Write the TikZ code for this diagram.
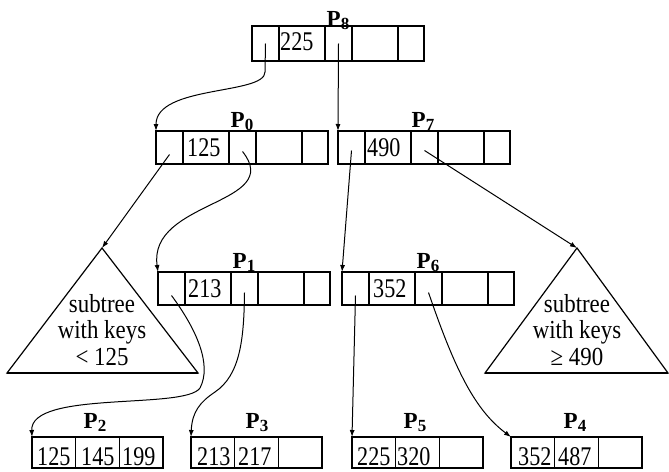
\documentclass[tikz,border=0pt]{standalone}
\usepackage{fontspec}
\usepackage{graphicx}
\setmainfont{Liberation Serif}
\usetikzlibrary{arrows.meta}
\newcommand\kt[1]{\scalebox{0.82}[1]{#1}}
\newcommand\trtxt[1]{\scalebox{0.88}[1]{#1}}
\newcommand\plab[1]{\textbf{P\raisebox{-3.5pt}{\fontsize{17}{17}\selectfont #1}}}
% internal node: name, x, y, height
\newcommand\ibox[4]{%
  \node[cellbox, minimum height=#4, minimum width=27pt, anchor=north west] (#1q0) at (#2,#3) {};
  \node[cellbox, minimum height=#4, minimum width=46pt, anchor=north west] (#1k0) at (#1q0.north east) {};
  \node[cellbox, minimum height=#4, minimum width=27pt, anchor=north west] (#1q1) at (#1k0.north east) {};
  \node[cellbox, minimum height=#4, minimum width=46pt, anchor=north west] (#1k1) at (#1q1.north east) {};
  \node[cellbox, minimum height=#4, minimum width=26pt, anchor=north west] (#1q2) at (#1k1.north east) {};
  \node[boxrim, minimum height=#4, minimum width=172pt, anchor=north west] (#1) at (#2,#3) {};
}
% leaf node: name, x, y
\newcommand\lbox[3]{%
  \node[cellbox, minimum height=31pt, minimum width=43.7pt, anchor=north west] (#1k0) at (#2,#3) {};
  \node[cellbox, minimum height=31pt, minimum width=43.7pt, anchor=north west] (#1k1) at (#1k0.north east) {};
  \node[cellbox, minimum height=31pt, minimum width=43.7pt, anchor=north west] (#1k2) at (#1k1.north east) {};
  \node[boxrim, minimum height=31pt, minimum width=131pt, anchor=north west] (#1) at (#2,#3) {};
}
\begin{document}
\begin{tikzpicture}[x=1pt,y=-1pt,
  boxrim/.style={draw, line width=1.7pt, inner sep=0pt, outer sep=0pt},
  cellbox/.style={draw, line width=1.2pt, inner sep=0pt, outer sep=0pt},
  keyt/.style={font=\fontsize{27}{30}\selectfont, inner sep=0pt},
  labt/.style={font=\fontsize{23}{26}\selectfont, inner sep=0pt, anchor=base},
  trit/.style={font=\fontsize{26}{29}\selectfont, inner sep=0pt, anchor=base},
  conn/.style={line width=1pt, -{Latex[length=7pt,width=5pt]}},
  tri/.style={line width=1.2pt}]
\useasboundingbox[fill=white] (0,0) rectangle (669,471);

% internal nodes
\ibox{p8}{252}{26}{35pt}
\ibox{p0}{156}{131}{33pt}
\ibox{p7}{338}{131}{33pt}
\ibox{p1}{158}{272}{33pt}
\ibox{p6}{342}{272}{33pt}
% leaves
\lbox{p2}{32}{437}
\lbox{p3}{191}{437}
\lbox{p5}{352}{437}
\lbox{p4}{511}{437}

% labels
\node[labt] (l8) at (338,26) {\plab{8}};
\node[labt] (l0) at (242,127) {\plab{0}};
\node[labt] (l7) at (423,127) {\plab{7}};
\node[labt] (l1) at (244,268) {\plab{1}};
\node[labt] (l6) at (428,268) {\plab{6}};
\node[labt] (l2) at (95,428) {\plab{2}};
\node[labt] (l3) at (257,428) {\plab{3}};
\node[labt] (l5) at (415,428) {\plab{5}};
\node[labt] (l4) at (575,428) {\plab{4}};

% keys
\node[keyt, anchor=base west] (t8) at (280,50) {\kt{225}};
\node[keyt, anchor=base west] (t0) at (187,156) {\kt{125}};
\node[keyt, anchor=base west] (t7) at (367,156) {\kt{490}};
\node[keyt, anchor=base west] (t1) at (188,297) {\kt{213}};
\node[keyt, anchor=base west] (t6) at (373,297) {\kt{352}};
\node[keyt, anchor=base west] (t2a) at (37,465) {\kt{125}};
\node[keyt, anchor=base west] (t2b) at (81,465) {\kt{145}};
\node[keyt, anchor=base west] (t2c) at (122,465) {\kt{199}};
\node[keyt, anchor=base west] (t3a) at (197,465) {\kt{213}};
\node[keyt, anchor=base west] (t3b) at (238,465) {\kt{217}};
\node[keyt, anchor=base west] (t5a) at (357,465) {\kt{225}};
\node[keyt, anchor=base west] (t5b) at (397,465) {\kt{320}};
\node[keyt, anchor=base west] (t4a) at (518,465) {\kt{352}};
\node[keyt, anchor=base west] (t4b) at (558,465) {\kt{487}};

% subtree triangles
\coordinate (tla) at (102,248);
\coordinate (tll) at (7,373);
\coordinate (tlr) at (198,373);
\draw[tri] (tla) -- (tlr) -- (tll) -- cycle;
\draw[line width=1.7pt] (tll) -- (tlr);
\node[trit] (ls1) at (102,312) {\trtxt{subtree}};
\node[trit] (ls2) at (102,338) {\trtxt{with keys}};
\node[trit] (ls3) at (102,365) {\trtxt{< 125}};

\coordinate (tra) at (577,248);
\coordinate (trl) at (485,373);
\coordinate (trr) at (668,373);
\draw[tri] (tra) -- (trr) -- (trl) -- cycle;
\draw[line width=1.7pt] (trl) -- (trr);
\node[trit] (rs1) at (577,312) {\trtxt{subtree}};
\node[trit] (rs2) at (577,338) {\trtxt{with keys}};
\node[trit] (rs3) at (577,365) {\trtxt{≥ 490}};

% connectors
\draw[conn] (p8q0.center) -- (265,72) .. controls (265,95) and (156,85) .. (p0.north west);
\draw[conn] (p8q1.center) -- (p7.north west);
\draw[conn] ([yshift=-7pt]p0q0.center) -- (tla);
\draw[conn] ([yshift=-4pt]p0q1.center) .. controls (285,205) and (148,200) .. (p1.north west);
\draw[conn] ([yshift=-3pt]p7q0.center) -- (p6.north west);
\draw[conn] ([yshift=-3pt]p7q1.center) -- (tra);
\draw[conn] ([yshift=-7pt]p1q0.center) .. controls (197,330) and (212,365) .. (200,388)
   .. controls (185,410) and (30,390) .. (p2.north west);
\draw[conn] ([yshift=-4pt]p1q1.center) .. controls (244,340) and (240,375) .. (215,392)
   .. controls (200,402) and (192,412) .. (p3.north west);
\draw[conn] ([yshift=-7pt]p6q0.center) -- (p5.north west);
\draw[conn] ([yshift=-4pt]p6q1.center) .. controls (455,370) and (475,410) .. (p4.north west);
\end{tikzpicture}
\end{document}
